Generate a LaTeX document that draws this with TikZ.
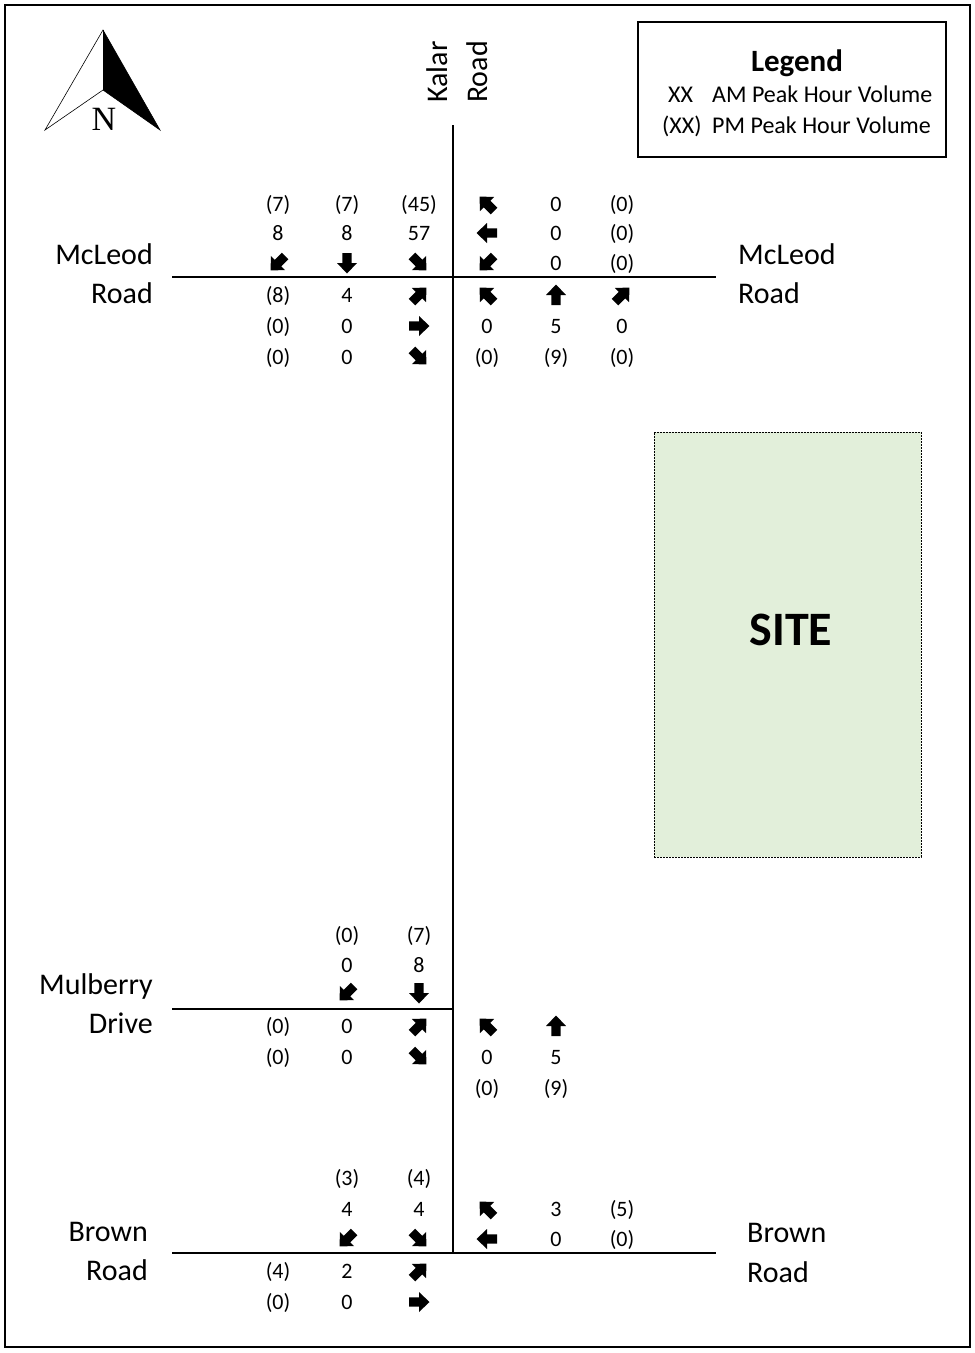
\documentclass[tikz,border=0pt]{standalone}
\usepackage{fontspec}
\setmainfont{Carlito}
\newfontfamily\northfont{Liberation Serif}
\definecolor{sitegreen}{HTML}{E2EFDA}
% heavy block arrow centred on (#1,#2), pointing at angle #3
\newcommand\blkarrow[3]{%
  \fill[shift={(#1,#2)},rotate=#3] (10.5,0) -- (0,10) -- (0,4.6) -- (-10,4.6) -- (-10,-4.6) -- (0,-4.6) -- (0,-10) -- cycle;}
\tikzset{
  vol/.style={font=\fontsize{22}{22}\selectfont, inner sep=0pt, anchor=base},
  roadname/.style={font=\fontsize{30}{30}\selectfont, inner sep=0pt},
  legtext/.style={font=\fontsize{24}{24}\selectfont, inner sep=0pt, anchor=base west},
  road/.style={line width=2.6pt},
}
\begin{document}
\begin{tikzpicture}[x=1pt,y=-1pt]
\useasboundingbox (0,0) rectangle (975,1353);
% frame
\draw[line width=1.3pt] (5,5) rectangle (970,1347);

% north arrow
\coordinate (nTip) at (103,30);
\coordinate (nL) at (45,130);
\coordinate (nR) at (160,130);
\coordinate (nC) at (103,90);
\fill (nTip) -- (nC) -- (nR) -- cycle;
\draw[line width=0.6pt, line join=miter] (nTip) -- (nL) -- (nC) -- (nR) -- cycle;
\draw[line width=0.6pt] (nTip) -- (nC);
\node[font=\northfont\fontsize{34}{34}\selectfont, inner sep=0pt, anchor=base] (nLetter) at (104,130) {N};

% legend
\node[draw, line width=1.2pt, minimum width=308pt, minimum height=135pt, inner sep=0pt] (legend) at (792,89.5) {};
\node[font=\bfseries\fontsize{31}{31}\selectfont, inner sep=0pt, anchor=base] (legTitle) at (797,71) {Legend};
\node[legtext] (legAM1) at (668,102) {XX};
\node[legtext] (legAM2) at (712,102) {AM Peak Hour Volume};
\node[legtext] (legPM1) at (662,133) {(XX)};
\node[legtext] (legPM2) at (712,133) {PM Peak Hour Volume};

% site
\node[draw, fill=sitegreen, line width=1pt, dash pattern=on 2pt off 1pt, minimum width=267pt, minimum height=425pt, inner sep=0pt] (site) at (787.5,644.5) {};
\node[font=\bfseries\fontsize{48}{48}\selectfont, inner sep=0pt, anchor=base] (siteLabel) at (791,645) {SITE};

% roads
\coordinate (kTop) at (453,125);
\coordinate (kBot) at (453,1253);
\coordinate (mcW) at (172,277);
\coordinate (mcE) at (716,277);
\coordinate (muW) at (172,1009);
\coordinate (muE) at (453,1009);
\coordinate (brW) at (172,1253);
\coordinate (brE) at (716,1253);
\draw[road] (kTop) -- (kBot);
\draw[road] (mcW) -- (mcE);
\draw[road] (muW) -- (muE);
\draw[road] (brW) -- (brE);

% road names
\node[roadname, rotate=90] (kalar) at (437,72) {Kalar};
\node[roadname, rotate=90] (kalarRd) at (477,72) {Road};
\node[roadname, anchor=base east] (mcWa) at (153,264) {McLeod};
\node[roadname, anchor=base east] (mcWb) at (153,303) {Road};
\node[roadname, anchor=base west] (mcEa) at (738,264) {McLeod};
\node[roadname, anchor=base west] (mcEb) at (738,303) {Road};
\node[roadname, anchor=base east] (muWa) at (153,994) {Mulberry};
\node[roadname, anchor=base east] (muWb) at (153,1033) {Drive};
\node[roadname, anchor=base east] (brWa) at (148,1241) {Brown};
\node[roadname, anchor=base east] (brWb) at (148,1280) {Road};
\node[roadname, anchor=base west] (brEa) at (747,1242) {Brown};
\node[roadname, anchor=base west] (brEb) at (747,1282) {Road};

% ---- McLeod Road / Kalar Road ----
\node[vol] (m1) at (278,211) {(7)};
\node[vol] (m2) at (278,240) {8};
\blkarrow{278}{263}{225}
\node[vol] (m3) at (347,211) {(7)};
\node[vol] (m4) at (347,240) {8};
\blkarrow{347}{263}{270}
\node[vol] (m5) at (419,211) {(45)};
\node[vol] (m6) at (419,240) {57};
\blkarrow{419}{263}{315}
\blkarrow{487}{204}{135}
\blkarrow{487}{233}{180}
\blkarrow{487}{263}{225}
\node[vol] (m7) at (556,211) {0};
\node[vol] (m8) at (556,240) {0};
\node[vol] (m9) at (556,270) {0};
\node[vol] (m10) at (622,211) {(0)};
\node[vol] (m11) at (622,240) {(0)};
\node[vol] (m12) at (622,270) {(0)};
\node[vol] (m13) at (278,302) {(8)};
\node[vol] (m14) at (278,333) {(0)};
\node[vol] (m15) at (278,364) {(0)};
\node[vol] (m16) at (347,302) {4};
\node[vol] (m17) at (347,333) {0};
\node[vol] (m18) at (347,364) {0};
\blkarrow{419}{295}{45}
\blkarrow{419}{326}{0}
\blkarrow{419}{357}{315}
\blkarrow{487}{295}{135}
\node[vol] (m19) at (487,333) {0};
\node[vol] (m20) at (487,364) {(0)};
\blkarrow{556}{295}{90}
\node[vol] (m21) at (556,333) {5};
\node[vol] (m22) at (556,364) {(9)};
\blkarrow{622}{295}{45}
\node[vol] (m23) at (622,333) {0};
\node[vol] (m24) at (622,364) {(0)};

% ---- Mulberry Drive / Kalar Road ----
\node[vol] (u1) at (347,942) {(0)};
\node[vol] (u2) at (347,972) {0};
\blkarrow{347}{993}{225}
\node[vol] (u3) at (419,942) {(7)};
\node[vol] (u4) at (419,972) {8};
\blkarrow{419}{993}{270}
\node[vol] (u5) at (278,1033) {(0)};
\node[vol] (u6) at (278,1064) {(0)};
\node[vol] (u7) at (347,1033) {0};
\node[vol] (u8) at (347,1064) {0};
\blkarrow{419}{1026}{45}
\blkarrow{419}{1057}{315}
\blkarrow{487}{1026}{135}
\node[vol] (u9) at (487,1064) {0};
\node[vol] (u10) at (487,1095) {(0)};
\blkarrow{556}{1026}{90}
\node[vol] (u11) at (556,1064) {5};
\node[vol] (u12) at (556,1095) {(9)};

% ---- Brown Road / Kalar Road ----
\node[vol] (b1) at (347,1185) {(3)};
\node[vol] (b2) at (347,1216) {4};
\blkarrow{347}{1239}{225}
\node[vol] (b3) at (419,1185) {(4)};
\node[vol] (b4) at (419,1216) {4};
\blkarrow{419}{1239}{315}
\blkarrow{487}{1209}{135}
\blkarrow{487}{1239}{180}
\node[vol] (b5) at (556,1216) {3};
\node[vol] (b6) at (556,1246) {0};
\node[vol] (b7) at (622,1216) {(5)};
\node[vol] (b8) at (622,1246) {(0)};
\node[vol] (b9) at (278,1278) {(4)};
\node[vol] (b10) at (278,1309) {(0)};
\node[vol] (b11) at (347,1278) {2};
\node[vol] (b12) at (347,1309) {0};
\blkarrow{419}{1271}{45}
\blkarrow{419}{1302}{0}
\end{tikzpicture}
\end{document}
